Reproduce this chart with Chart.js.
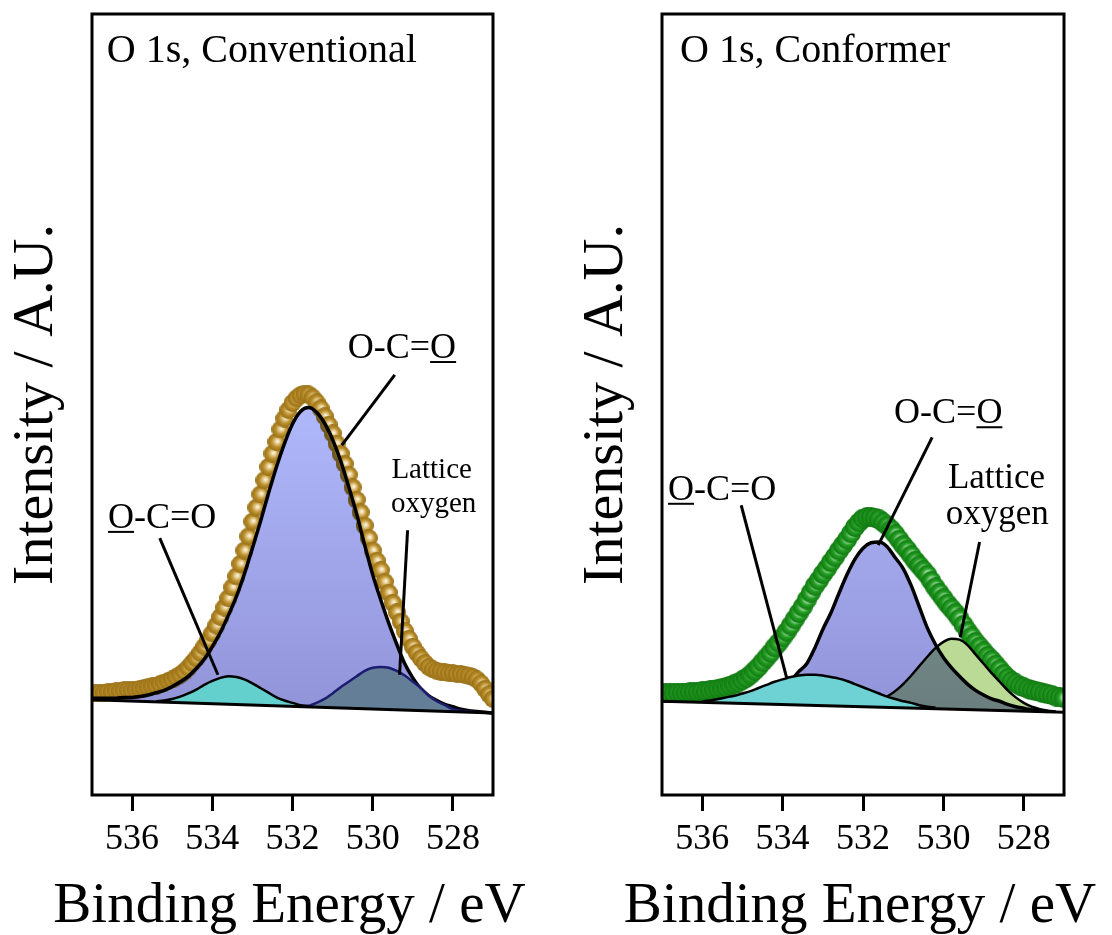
<!DOCTYPE html>
<html>
<head>
<meta charset="utf-8">
<script src="https://cdn.jsdelivr.net/npm/chart.js@4.4.1/dist/chart.umd.min.js"></script>
<style>
  html, body { margin: 0; padding: 0; background: #fff; }
  #wrap { position: relative; width: 1112px; height: 935px; }
  .panel { position: absolute; top: 0; }
  #left { left: 0; }
  #right { left: 570px; }
</style>
</head>
<body>
<div id="wrap">
  <div class="panel" id="left"><canvas id="chartLeft" width="556" height="935"></canvas></div>
  <div class="panel" id="right"><canvas id="chartRight" width="542" height="935"></canvas></div>
</div>
<script>
// binding energy grid for the fitted curves (eV), 0.2 eV steps
var energy = [537.0, 536.8, 536.6, 536.4, 536.2, 536.0, 535.8, 535.6, 535.4, 535.2,
  535.0, 534.8, 534.6, 534.4, 534.2, 534.0, 533.8, 533.6, 533.4, 533.2,
  533.0, 532.8, 532.6, 532.4, 532.2, 532.0, 531.8, 531.6, 531.4, 531.2,
  531.0, 530.8, 530.6, 530.4, 530.2, 530.0, 529.8, 529.6, 529.4, 529.2,
  529.0, 528.8, 528.6, 528.4, 528.2, 528.0, 527.8, 527.6, 527.4, 527.2,
  527.0];
// binding energy of the measured points (eV), 0.1 eV steps
var dataEnergy = [537.0, 536.9, 536.8, 536.7, 536.6, 536.5, 536.4, 536.3, 536.2, 536.1,
  536.0, 535.9, 535.8, 535.7, 535.6, 535.5, 535.4, 535.3, 535.2, 535.1,
  535.0, 534.9, 534.8, 534.7, 534.6, 534.5, 534.4, 534.3, 534.2, 534.1,
  534.0, 533.9, 533.8, 533.7, 533.6, 533.5, 533.4, 533.3, 533.2, 533.1,
  533.0, 532.9, 532.8, 532.7, 532.6, 532.5, 532.4, 532.3, 532.2, 532.1,
  532.0, 531.9, 531.8, 531.7, 531.6, 531.5, 531.4, 531.3, 531.2, 531.1,
  531.0, 530.9, 530.8, 530.7, 530.6, 530.5, 530.4, 530.3, 530.2, 530.1,
  530.0, 529.9, 529.8, 529.7, 529.6, 529.5, 529.4, 529.3, 529.2, 529.1,
  529.0, 528.9, 528.8, 528.7, 528.6, 528.5, 528.4, 528.3, 528.2, 528.1,
  528.0, 527.9, 527.8, 527.7, 527.6, 527.5, 527.4, 527.3, 527.2, 527.1,
  527.0];
var tickValues = [536, 534, 532, 530, 528];
var xTitle = "Binding Energy / eV";
var yTitle = "Intensity / A.U.";

// baseline end points
var baseEnergy = [537, 527];
var convBase = [12.2, 10.5];
var confBase = [12.0, 10.6];

// O 1s, Conventional
var convData = [13.0, 13.0, 13.1, 13.1, 13.2, 13.2, 13.3, 13.3, 13.4, 13.4,
  13.4, 13.5, 13.6, 13.7, 13.8, 13.9, 14.0, 14.2, 14.4, 14.6,
  14.8, 15.1, 15.4, 15.8, 16.3, 16.9, 17.5, 18.2, 19.0, 19.8,
  20.7, 21.7, 22.8, 24.0, 25.2, 26.6, 28.0, 29.6, 31.3, 33.1,
  35.0, 36.8, 38.5, 40.3, 42.0, 43.7, 45.2, 46.8, 48.2, 49.3,
  50.2, 50.8, 51.2, 51.4, 51.3, 50.9, 50.3, 49.5, 48.5, 47.4,
  46.3, 45.0, 43.7, 42.4, 41.0, 39.4, 37.8, 36.2, 34.5, 32.9,
  31.3, 30.0, 28.8, 27.3, 25.9, 24.6, 23.4, 22.2, 21.0, 20.0,
  19.0, 18.2, 17.5, 16.9, 16.4, 16.1, 15.9, 15.8, 15.7, 15.6,
  15.6, 15.5, 15.5, 15.4, 15.3, 15.1, 14.8, 14.3, 13.6, 12.9,
  12.3];
var convMain = [12.4, 12.4, 12.4, 12.4, 12.5, 12.5, 12.6, 12.8, 13.1, 13.4,
  13.9, 14.5, 15.2, 16.2, 17.4, 19.0, 20.8, 23.0, 25.4, 28.3,
  31.6, 35.0, 38.6, 42.0, 45.0, 47.5, 49.1, 49.6, 49.0, 47.6,
  45.5, 42.8, 39.5, 36.0, 32.0, 28.2, 25.0, 22.0, 19.3, 16.8,
  15.0, 13.6, 12.7, 12.1, 11.6, 11.3, 11.0, 10.8, 10.7, 10.6,
  10.5];
var convOCO = [null, null, null, null, null, null, null, null, 12.0, 12.1,
  12.3, 12.6, 13.0, 13.5, 14.1, 14.6, 15.0, 15.2, 15.1, 14.8,
  14.3, 13.7, 13.1, 12.5, 12.1, 11.8, 11.5, 11.4, null, null,
  null, null, null, null, null, null, null, null, null, null,
  null, null, null, null, null, null, null, null, null, null,
  null];
var convLattice = [null, null, null, null, null, null, null, null, null, null,
  null, null, null, null, null, null, null, null, null, null,
  null, null, null, null, null, null, 11.3, 11.4, 11.8, 12.3,
  13.0, 13.8, 14.5, 15.2, 15.9, 16.3, 16.4, 16.3, 15.9, 15.3,
  14.5, 13.7, 12.7, 12.0, 11.5, 11.0, 10.8, 10.7, 10.6, null,
  null];

// O 1s, Conformer
var confData = [13.0, 13.0, 13.0, 13.0, 13.1, 13.1, 13.1, 13.2, 13.2, 13.2,
  13.3, 13.3, 13.4, 13.5, 13.6, 13.7, 13.8, 14.0, 14.2, 14.4,
  14.7, 15.0, 15.4, 15.9, 16.4, 17.0, 17.6, 18.2, 18.9, 19.5,
  20.2, 20.9, 21.7, 22.5, 23.3, 24.1, 25.0, 25.9, 26.8, 27.5,
  28.3, 29.0, 29.8, 30.5, 31.3, 32.0, 32.7, 33.5, 34.3, 34.9,
  35.4, 35.6, 35.6, 35.5, 35.3, 34.9, 34.5, 34.0, 33.4, 32.7,
  32.0, 31.4, 30.7, 30.0, 29.4, 28.8, 28.2, 27.4, 26.6, 25.9,
  25.2, 24.5, 23.9, 23.3, 22.6, 21.8, 21.0, 20.3, 19.6, 19.0,
  18.4, 17.8, 17.3, 16.7, 16.1, 15.5, 15.0, 14.6, 14.3, 14.0,
  13.8, 13.6, 13.4, 13.3, 13.2, 13.0, 12.9, 12.8, 12.6, 12.5,
  12.4];
var confMain = [null, null, null, null, null, null, null, null, null, null,
  11.8, 12.0, 12.1, 12.4, 12.8, 13.5, 14.6, 15.8, 16.8, 18.8,
  21.2, 23.3, 25.8, 28.2, 30.2, 31.6, 32.3, 32.4, 31.8, 30.4,
  29.0, 26.8, 24.1, 21.4, 19.3, 17.6, 16.3, 15.2, 14.2, 13.4,
  12.8, 12.3, 12.0, 11.6, 11.3, 11.1, 10.9, 10.8, 10.7, null,
  null];
var confOCO = [null, null, null, null, null, 12.0, 12.1, 12.3, 12.5, 12.7,
  13.0, 13.3, 13.7, 14.1, 14.5, 14.8, 15.1, 15.3, 15.4, 15.4,
  15.3, 15.1, 14.9, 14.6, 14.2, 13.8, 13.4, 13.0, 12.6, 12.3,
  12.0, 11.8, 11.5, 11.3, 11.2, null, null, null, null, null,
  null, null, null, null, null, null, null, null, null, null,
  null];
var confLattice = [null, null, null, null, null, null, null, null, null, null,
  null, null, null, null, null, null, null, null, null, null,
  null, null, null, null, null, 11.4, 11.6, 12.0, 12.6, 13.3,
  14.2, 15.3, 16.5, 17.7, 18.8, 19.6, 20.0, 19.9, 19.2, 18.0,
  16.8, 15.6, 14.5, 13.4, 12.5, 11.8, 11.3, 11.0, 10.8, 10.7,
  null];

// labels and leader lines, in axis units
var leftTexts = [
  { text: "O 1s, Conventional", x: 536.63, y: 93.85, size: 40, align: "left" },
  { text: "O-C=O", x: 536.6, y: 34.2, size: 36, align: "left", underline: "first" },
  { text: "O-C=O", x: 529.27, y: 55.95, size: 36, align: "center", underline: "last" },
  { text: "Lattice", x: 528.53, y: 40.6, size: 29, align: "center" },
  { text: "oxygen", x: 528.48, y: 36.2, size: 29, align: "center" }
];
var leftLeaders = [[535.31, 32.9, 533.86, 15.4], [529.45, 53.8, 530.77, 44.8], [529.13, 33.9, 529.33, 15.4]];
var rightTexts = [
  { text: "O 1s, Conformer", x: 536.55, y: 93.85, size: 40, align: "left" },
  { text: "O-C=O", x: 536.85, y: 37.8, size: 36, align: "left", underline: "first" },
  { text: "O-C=O", x: 529.88, y: 47.6, size: 36, align: "center", underline: "last" },
  { text: "Lattice", x: 528.68, y: 39.3, size: 35, align: "center" },
  { text: "oxygen", x: 528.66, y: 34.7, size: 35, align: "center" }
];
var rightLeaders = [[535.03, 37.1, 533.89, 14.85], [530.28, 45.8, 531.62, 32.0], [529.1, 32.4, 529.58, 20.2]];

Chart.defaults.font.family = '"Liberation Serif", "Times New Roman", serif';
Chart.defaults.color = "#000";

function pts(xs, ys) {
  return xs.map(function (e, i) { return { x: e, y: ys[i] }; });
}

// shaded ball used for the measured points
function makeBall(r, light, mid, dark) {
  var c = document.createElement("canvas");
  c.width = c.height = r * 2;
  var g = c.getContext("2d");
  var grad = g.createRadialGradient(r * 1.15, r * 0.9, 0, r, r, r);
  grad.addColorStop(0, "#ffffff");
  grad.addColorStop(0.22, light);
  grad.addColorStop(0.6, mid);
  grad.addColorStop(1, dark);
  g.fillStyle = grad;
  g.beginPath();
  g.arc(r, r, r, 0, Math.PI * 2);
  g.fill();
  return c;
}
var goldBall = makeBall(9, "rgb(236,214,160)", "rgb(186,142,42)", "rgb(150,110,22)");
var greenBall = makeBall(10, "rgb(200,238,200)", "rgb(36,160,36)", "rgb(16,118,16)");

function lavender(context) {
  var chart = context.chart;
  if (!chart.chartArea) return "rgb(160,166,238)";
  var y = chart.scales.y;
  var g = chart.ctx.createLinearGradient(0, y.getPixelForValue(50), 0, y.getPixelForValue(11));
  g.addColorStop(0, "rgb(176,184,252)");
  g.addColorStop(1, "rgb(146,148,216)");
  return g;
}

// main component fill is multiplied onto what lies below it
var multiplyPlugin = {
  id: "multiplyFill",
  afterDatasetDraw: function (chart, args) {
    var metas = chart.getSortedVisibleDatasetMetas();
    var i = metas.indexOf(args.meta);
    if (chart.data.datasets[args.index].multiply) chart.ctx.restore();
    var next = metas[i - 1];
    if (next && chart.data.datasets[next.index].multiply) {
      chart.ctx.save();
      chart.ctx.globalCompositeOperation = "multiply";
    }
  }
};

function labelPlugin(texts, leaders) {
  return {
    id: "peakLabels",
    afterDatasetsDraw: function (chart) {
      var ctx = chart.ctx, x = chart.scales.x, y = chart.scales.y, a = chart.chartArea;
      ctx.save();
      ctx.strokeStyle = "#000";
      ctx.lineWidth = 3;
      leaders.forEach(function (l) {
        ctx.beginPath();
        ctx.moveTo(x.getPixelForValue(l[0]), y.getPixelForValue(l[1]));
        ctx.lineTo(x.getPixelForValue(l[2]), y.getPixelForValue(l[3]));
        ctx.stroke();
      });
      ctx.fillStyle = "#000";
      ctx.textBaseline = "alphabetic";
      ctx.textAlign = "left";
      texts.forEach(function (t) {
        ctx.font = t.size + 'px "Liberation Serif"';
        var w = ctx.measureText(t.text).width;
        var px = x.getPixelForValue(t.x);
        if (t.align === "center") px -= w / 2;
        var py = y.getPixelForValue(t.y);
        ctx.fillText(t.text, px, py);
        if (t.underline) {
          var ow = ctx.measureText("O").width;
          var ux = t.underline === "first" ? px : px + w - ow;
          ctx.lineWidth = 2;
          ctx.beginPath();
          ctx.moveTo(ux, py + 4);
          ctx.lineTo(ux + ow, py + 4);
          ctx.stroke();
        }
      });
      ctx.lineWidth = 3;
      ctx.strokeRect(a.left, a.top, a.right - a.left, a.bottom - a.top);
      // x axis title, wider than the plot so drawn without maxWidth
      ctx.font = '57px "Liberation Serif"';
      ctx.textAlign = "center";
      ctx.fillText(xTitle, (a.left + a.right) / 2 - 3, 922);
      ctx.restore();
    }
  };
}

function panelOptions(padRight) {
  return {
    responsive: false,
    animation: false,
    events: [],
    layout: { padding: { top: 14, right: padRight, left: 0, bottom: 0 } },
    plugins: { legend: { display: false }, tooltip: { enabled: false } },
    elements: { point: { radius: 0 }, line: { cubicInterpolationMode: "monotone" } },
    scales: {
      x: {
        type: "linear",
        min: 527,
        max: 537,
        reverse: true,
        afterBuildTicks: function (s) { s.ticks = tickValues.map(function (v) { return { value: v }; }); },
        afterFit: function (s) { s.height = 140; },
        grid: { drawOnChartArea: false, drawTicks: true, tickLength: 16, tickWidth: 3, tickColor: "#000" },
        border: { display: false },
        ticks: { font: { size: 36 }, color: "#000", padding: 7, maxRotation: 0 },
        title: { display: false }
      },
      y: {
        min: 0,
        max: 100,
        afterFit: function (s) { s.width = 92; },
        grid: { display: false },
        border: { display: false },
        ticks: { display: false },
        title: { display: true, text: yTitle, font: { size: 58 }, color: "#000", padding: { top: 2, bottom: 2 } }
      }
    }
  };
}

// Conventional panel
new Chart(document.getElementById("chartLeft"), {
  type: "line",
  data: {
    datasets: [
      { data: pts(baseEnergy, convBase), borderColor: "#000", borderWidth: 3, fill: false },
      { data: pts(energy, convOCO), borderColor: "#000", borderWidth: 2.5, backgroundColor: "rgb(100,208,205)", fill: 0 },
      { data: pts(energy, convLattice), borderColor: "#1c1c70", borderWidth: 2.5, backgroundColor: "rgba(96,124,145,0.92)", fill: 0 },
      { data: pts(energy, convMain), borderColor: "#000", borderWidth: 3.5, backgroundColor: lavender, fill: 0, multiply: true },
      { data: pts(dataEnergy, convData), showLine: false, pointStyle: goldBall, pointRadius: 9 }
    ]
  },
  options: panelOptions(63),
  plugins: [multiplyPlugin, labelPlugin(leftTexts, leftLeaders)]
});

// Conformer panel
new Chart(document.getElementById("chartRight"), {
  type: "line",
  data: {
    datasets: [
      { data: pts(baseEnergy, confBase), borderColor: "#000", borderWidth: 3, fill: false },
      { data: pts(energy, confOCO), borderColor: "#000", borderWidth: 2.5, backgroundColor: "rgb(110,210,212)", fill: 0 },
      { data: pts(energy, confMain), borderColor: "#000", borderWidth: 3.5, backgroundColor: lavender, fill: 0, multiply: true },
      { data: pts(energy, confLattice), borderColor: "#000", borderWidth: 2.5, backgroundColor: "rgb(186,218,150)", fill: 0 },
      { data: pts(dataEnergy, confData), showLine: false, pointStyle: greenBall, pointRadius: 10 }
    ]
  },
  options: panelOptions(48),
  plugins: [multiplyPlugin, labelPlugin(rightTexts, rightLeaders)]
});
</script>
</body>
</html>
